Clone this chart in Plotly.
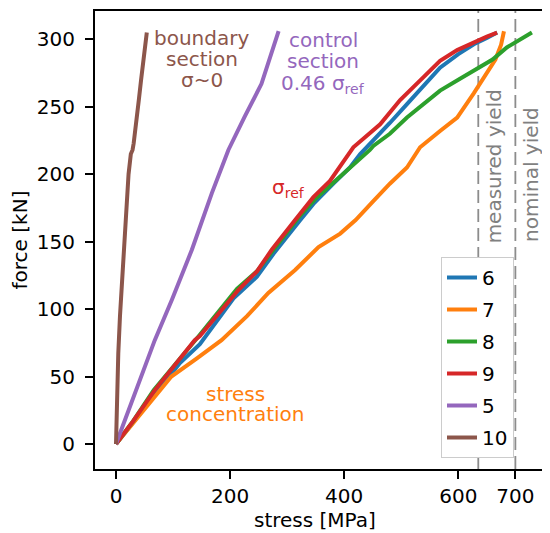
import plotly.graph_objects as go

# ---- data ----
x6 = [0, 60, 112, 147, 206, 247, 276, 323, 346, 381, 410, 428, 451, 480, 510, 540, 568, 600, 630, 650, 668]
y6 = [0, 32, 60, 74, 108, 124, 141, 166, 178, 193, 205, 215, 225, 238, 252, 266, 279, 289, 297, 301, 305]

x7 = [0, 45, 97, 140, 185, 230, 267, 314, 355, 393, 420, 451, 480, 510, 533, 568, 598, 627, 650, 665, 675, 680]
y7 = [0, 23, 50, 63, 77, 95, 112, 129, 146, 156, 166, 180, 193, 205, 220, 232, 242, 260, 275, 285, 296, 306]

x8 = [0, 30, 66, 112, 140, 147, 212, 247, 276, 320, 350, 393, 430, 445, 451, 480, 510, 540, 568, 600, 627, 660, 685, 710, 729]
y8 = [0, 17, 40, 63, 78, 81, 115, 128, 144, 168, 182, 198, 212, 218, 221, 230, 242, 252, 262, 270, 277, 285, 294, 300, 305]

x9 = [0, 30, 68, 112, 138, 147, 214, 247, 273, 314, 346, 375, 416, 463, 498, 539, 568, 598, 627, 650, 668]
y9 = [0, 17, 40, 64, 77, 80, 114, 128, 144, 166, 183, 195, 220, 237, 255, 272, 284, 292, 298, 302, 305]

x5 = [0, 39, 68, 98, 133, 168, 197, 226, 255, 285]
y5 = [0, 45, 77, 107, 144, 186, 218, 243, 267, 306]

x10 = [0, 1.5, 4, 7, 10, 13, 16, 19, 22, 26, 29, 31, 35, 40, 44, 48, 51, 54]
y10 = [0, 30, 67, 95, 117, 140, 166, 185, 200, 215, 218, 223, 240, 255, 270, 283, 295, 305]

names = ["6", "7", "8", "9", "5", "10"]
colors = ["#1f77b4", "#ff7f0e", "#2ca02c", "#d62728", "#9467bd", "#8c564b"]
series = [(x6, y6), (x7, y7), (x8, y8), (x9, y9), (x5, y5), (x10, y10)]

measured_yield = 635
nominal_yield = 700
x_ticks = [0, 200, 400, 600, 700]
y_ticks = [0, 50, 100, 150, 200, 250, 300]

FONT = "DejaVu Sans"
W, H = 542, 525           # page body has an 8px margin
L, R, T, B = 87, 0, 3, 64
PW, PH = W - L - R, H - T - B

fig = go.Figure()
for (xs, ys), n, c in zip(series, names, colors):
    fig.add_trace(go.Scatter(x=xs, y=ys, mode="lines", name=n, legendgroup=n,
                             line=dict(color=c, width=4)))

for xv in [measured_yield, nominal_yield]:
    fig.add_shape(type="line", xref="x", yref="paper", x0=xv, x1=xv, y0=0, y1=1,
                  line=dict(color="#8c8c8c", width=1.8, dash="13px,6px"), layer="below")

def ann(x, y, text, color, angle=0):
    fig.add_annotation(x=x, y=y, xref="x", yref="y", text=text, showarrow=False,
                       font=dict(family=FONT, size=20, color=color),
                       xanchor="center", yanchor="middle", textangle=angle)

brown, purple, red, orange, gray = colors[5], colors[4], colors[3], colors[1], "#808080"
ann(150, 301, "boundary", brown)
ann(150, 285.6, "section", brown)
ann(150, 270, "σ~0", brown)
ann(363, 299.7, "control", purple)
ann(363, 283.7, "section", purple)
ann(363, 267, "0.46 σ<sub>ref</sub>", purple)
ann(303, 190, "σ<sub>ref</sub>", red)
ann(208.6, 37.4, "stress", orange)
ann(208.6, 22.2, "concentration", orange)
ann(662, 205.6, "measured yield", gray, -90)
ann(727, 200, "nominal yield", gray, -90)

# x-axis label (page px: centre x 314.5, centre y 520)
fig.add_annotation(x=(314.5 - 8 - L) / PW, y=-(520 - 8 - (T + PH)) / PH, xref="paper", yref="paper",
                   text="stress [MPa]", showarrow=False, xanchor="center", yanchor="middle",
                   font=dict(family=FONT, size=20, color="black"))

fig.update_layout(
    width=W, height=H,
    margin=dict(l=L, r=R, t=T, b=B),
    paper_bgcolor="white", plot_bgcolor="white",
    font=dict(family=FONT, size=20, color="black"),
    showlegend=True,
    legend=dict(x=(441 - 8 - L) / PW, y=1 - (257 - 8 - T) / PH, xanchor="left", yanchor="top",
                bgcolor="white", bordercolor="#cccccc", borderwidth=1,
                font=dict(family=FONT, size=20, color="black"),
                tracegroupgap=3),
    xaxis=dict(range=[-36.8, 760.7], tickvals=x_ticks, showgrid=False, zeroline=False,
               showline=True, linecolor="black", linewidth=2, mirror=True,
               ticks="outside", ticklen=8, tickwidth=1.6, tickcolor="black",
               tickfont=dict(family=FONT, size=20, color="black")),
    yaxis=dict(range=[-18.5, 321], tickvals=y_ticks, showgrid=False, zeroline=False,
               showline=True, linecolor="black", linewidth=2,
               ticks="outside", ticklen=8, tickwidth=1.6, tickcolor="black",
               ticklabelstandoff=6,
               tickfont=dict(family=FONT, size=20, color="black"),
               title=dict(text="force [kN]", standoff=10,
                          font=dict(family=FONT, size=20, color="black"))),
)

fig.write_html("out.html")
